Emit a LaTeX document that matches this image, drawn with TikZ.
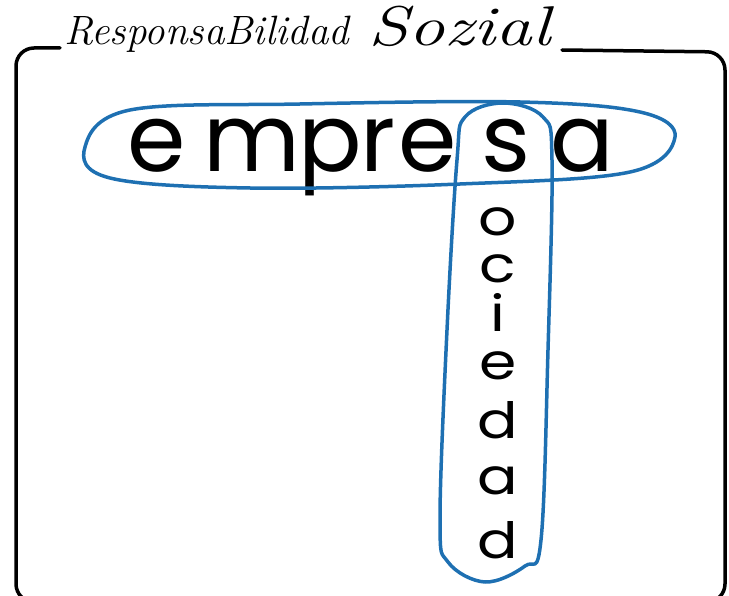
\documentclass[tikz,border=0pt]{standalone}
\usepackage{fontspec}
\newfontfamily\handfont{Poppins}
\usepackage{tikz}
\definecolor{markerblue}{RGB}{30,112,178}

\begin{document}
\begin{tikzpicture}[x=1pt, y=-1pt,
    frameline/.style={line width=3.5pt, black, line cap=round},
    marker/.style={line width=3.5pt, markerblue, line cap=round, line join=round},
    bigletter/.style={font=\handfont\fontsize{94}{94}\selectfont, anchor=base, inner sep=0pt},
    smallletter/.style={font=\handfont\fontsize{50}{50}\selectfont, anchor=base, inner sep=0pt},
    titletext/.style={font=\itshape\fontsize{41}{41}\selectfont, anchor=base west, inner sep=0pt}]

    \useasboundingbox (0,0) rectangle (729,596);
    \clip (0,0) rectangle (729,596);

    % Title
    \node[titletext] (resp) at (64,45) {ResponsaBilidad};
    \node[titletext, font=\itshape\fontsize{56}{56}\selectfont] (soz) at (368,46) {\scalebox{1.3}[1]{Sozial}};

    % Frame
    \draw[frameline, rounded corners=18] (60,48) -- (16,48) -- (16,602) -- (725,602) -- (725,52) -- (562,50);

    % empresa, written across
    \foreach \name/\ch/\xpos in {e1/e/157, m/m/252, p/p/330, r/r/378, e2/e/428, s/s/506, a1/a/582}
        \node[bigletter] (\name) at (\xpos,172) {\ch};

    % sociedad, written down from the shared s
    \foreach \name/\ch/\ypos in {o/o/236, c/c/283, i/i/332, e3/e/380, d1/d/438, a2/a/494, d2/d/558}
        \node[smallletter] (\name) at (498,\ypos) {\scalebox{1.2}[1]{\ch}};

    % Marker ring round empresa
    \draw[marker] plot[smooth cycle, tension=0.6] coordinates {(85,147) (130,110) (300,104) (520,102) (640,112) (675,137) (630,172) (460,184) (250,188) (110,178)};

    % Marker loop round sociedad
    \draw[marker] plot[smooth cycle, tension=0.6] coordinates {(457,160) (465,117) (503,103) (543,117) (552,160) (548,350) (541,540) (525,566) (485,582) (448,562) (440,520) (447,330)};

\end{tikzpicture}
\end{document}
